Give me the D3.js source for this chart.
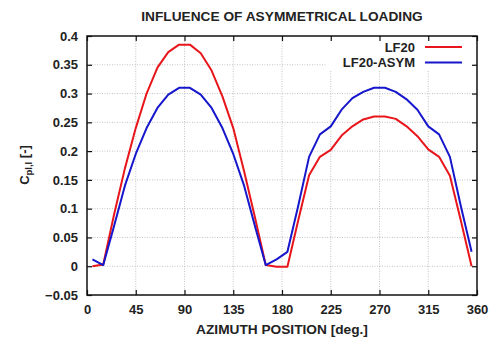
<!DOCTYPE html>
<html>
<head>
<meta charset="utf-8">
<script src="https://cdn.jsdelivr.net/npm/d3@7"></script>
<style>
  body { margin: 0; background: #fff; }
  text { font-family: "Liberation Sans", Arial, sans-serif; font-weight: bold; fill: #222; }
</style>
</head>
<body>
<div id="chart"></div>
<script>
// azimuth sample points (deg)
var azimuth = [5, 15, 25, 35, 45, 55, 65, 75, 85, 95, 105, 115, 125, 135, 145, 155, 165, 175,
               185, 195, 205, 215, 225, 235, 245, 255, 265, 275, 285, 295, 305, 315, 325, 335, 345, 355];

var lf20 = [0.0, 0.003, 0.09, 0.17, 0.24, 0.30, 0.345, 0.372, 0.385, 0.385, 0.37, 0.34, 0.295, 0.24, 0.165, 0.085, 0.002, -0.001,
            -0.001, 0.08, 0.158, 0.19, 0.202, 0.227, 0.243, 0.255, 0.26, 0.26, 0.256, 0.243, 0.226, 0.203, 0.19, 0.157, 0.08, 0.0];

var lf20asym = [0.012, 0.002, 0.07, 0.14, 0.195, 0.24, 0.275, 0.298, 0.31, 0.31, 0.298, 0.275, 0.24, 0.195, 0.14, 0.07, 0.002, 0.012,
                0.025, 0.105, 0.19, 0.229, 0.243, 0.272, 0.292, 0.303, 0.31, 0.31, 0.303, 0.29, 0.272, 0.243, 0.229, 0.19, 0.105, 0.025];

var xTicks = [0, 45, 90, 135, 180, 225, 270, 315, 360];
var yTicks = [-0.05, 0, 0.05, 0.1, 0.15, 0.2, 0.25, 0.3, 0.35, 0.4];

var seriesNames = ["LF20", "LF20-ASYM"];
var seriesColors = ["#e8161b", "#1616cc"];

var svgWidth = 492, svgHeight = 340;
var margin = { top: 36, right: 15, bottom: 45, left: 87 };
var width = svgWidth - margin.left - margin.right;   // 390
var height = svgHeight - margin.top - margin.bottom; // 259

var svg = d3.select("#chart").append("svg")
    .attr("width", svgWidth)
    .attr("height", svgHeight);

var g = svg.append("g")
    .attr("transform", `translate(${margin.left},${margin.top})`);

var x = d3.scaleLinear().domain([0, 360]).range([0, width]);
var y = d3.scaleLinear().domain([-0.05, 0.4]).range([height, 0]);

// grid
g.append("g").selectAll("line").data(xTicks.slice(1, -1)).enter().append("line")
    .attr("x1", d => x(d)).attr("x2", d => x(d))
    .attr("y1", 0).attr("y2", height)
    .attr("stroke", "#b4b4b4").attr("stroke-width", 0.8).attr("stroke-dasharray", "1,1.5");
g.append("g").selectAll("line").data(yTicks.slice(1, -1)).enter().append("line")
    .attr("y1", d => y(d)).attr("y2", d => y(d))
    .attr("x1", 0).attr("x2", width)
    .attr("stroke", "#b4b4b4").attr("stroke-width", 0.8).attr("stroke-dasharray", "1,1.5");

// legend background hides grid
g.append("rect")
    .attr("x", 240).attr("y", 2).attr("width", 147).attr("height", 33)
    .attr("fill", "#fff");

// axes with inward ticks
var bottomAxis = d3.axisBottom(x).tickValues(xTicks).tickSizeInner(-5).tickSizeOuter(0).tickPadding(10).tickFormat(d3.format("d"));
var leftAxis = d3.axisLeft(y).tickValues(yTicks).tickSizeInner(-5).tickSizeOuter(0).tickPadding(9).tickFormat(d => d === 0 ? "0" : d3.format("")(+d.toFixed(2)));
var topAxis = d3.axisTop(x).tickValues(xTicks).tickSizeInner(-5).tickSizeOuter(0).tickFormat("");
var rightAxis = d3.axisRight(y).tickValues(yTicks).tickSizeInner(-5).tickSizeOuter(0).tickFormat("");

var gx = g.append("g").attr("transform", `translate(0,${height})`).call(bottomAxis);
var gy = g.append("g").call(leftAxis);
var gt = g.append("g").call(topAxis);
var gr = g.append("g").attr("transform", `translate(${width},0)`).call(rightAxis);

[gx, gy, gt, gr].forEach(a => {
  a.select(".domain").remove();
  a.selectAll(".tick line").attr("stroke", "#111").attr("stroke-width", 1.2);
  a.selectAll("text").style("font-size", "13px").style("font-family", "Liberation Sans, Arial, sans-serif").style("font-weight", "bold").attr("fill", "#222");
});

// lines
var line = d3.line()
    .x((d, i) => x(azimuth[i]))
    .y(d => y(d));

[lf20, lf20asym].forEach((s, i) => {
  g.append("path")
      .datum(s)
      .attr("fill", "none")
      .attr("stroke", seriesColors[i])
      .attr("stroke-width", 2)
      .attr("stroke-linejoin", "round")
      .attr("d", line);
});

// frame
g.append("rect")
    .attr("width", width).attr("height", height)
    .attr("fill", "none").attr("stroke", "#111").attr("stroke-width", 1.5);

// legend
var legend = g.append("g");
seriesNames.forEach((name, i) => {
  var ly = 11 + i * 15.5;
  legend.append("text")
      .attr("x", 328).attr("y", ly + 4.5)
      .attr("text-anchor", "end")
      .style("font-size", "13px")
      .text(name);
  legend.append("line")
      .attr("x1", 338).attr("x2", 375)
      .attr("y1", ly).attr("y2", ly)
      .attr("stroke", seriesColors[i]).attr("stroke-width", 2);
});

// title and axis labels
svg.append("text")
    .attr("x", 282).attr("y", 21)
    .attr("text-anchor", "middle")
    .style("font-size", "13.7px")
    .text("INFLUENCE OF ASYMMETRICAL LOADING");

svg.append("text")
    .attr("x", 282).attr("y", 334)
    .attr("text-anchor", "middle")
    .style("font-size", "13.7px")
    .text("AZIMUTH POSITION [deg.]");

var yl = svg.append("text")
    .attr("transform", "translate(29,165) rotate(-90)")
    .attr("text-anchor", "middle")
    .style("font-size", "13px");
yl.append("tspan").text("C");
yl.append("tspan").attr("dy", 3).style("font-size", "9.5px").text("pl,l");
yl.append("tspan").attr("dy", -3).text(" [-]");
</script>
</body>
</html>
